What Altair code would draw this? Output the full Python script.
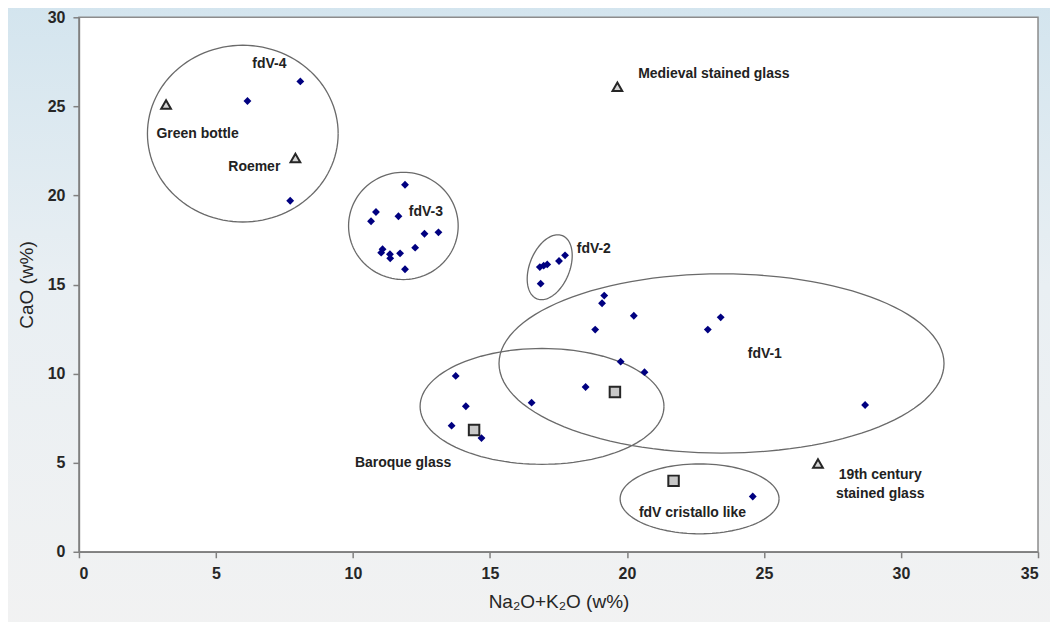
import altair as alt
import numpy as np
import pandas as pd

# ---------------- data ----------------
samp_x = [6.15, 8.08, 7.71,
          11.9, 10.84, 10.66, 11.66, 12.61, 13.12, 12.27, 11.08, 11.03, 11.35, 11.36, 11.72, 11.9,
          16.82, 16.96, 17.09, 17.52, 17.74, 16.85,
          19.17, 19.09, 20.25, 18.84, 23.42, 22.95, 19.77, 20.64, 18.49, 28.69, 16.52,
          13.75, 14.12, 13.6, 14.69, 24.59]
samp_y = [25.3, 26.4, 19.7,
          20.6, 19.07, 18.55, 18.83, 17.85, 17.93, 17.07, 16.98, 16.79, 16.7, 16.47, 16.75, 15.86,
          15.98, 16.06, 16.13, 16.32, 16.64, 15.05,
          14.38, 13.95, 13.25, 12.47, 13.16, 12.47, 10.67, 10.08, 9.25, 8.24, 8.37,
          9.87, 8.17, 7.08, 6.38, 3.1]

ref_tri_name = ["Green bottle", "Roemer", "Medieval stained glass", "19th century stained glass"]
ref_tri_x = [3.18, 7.9, 19.65, 26.97]
ref_tri_y = [25.1, 22.1, 26.1, 4.95]

ref_sq_name = ["Baroque glass A", "Baroque glass B", "cristallo"]
ref_sq_x = [14.42, 19.56, 21.7]
ref_sq_y = [6.84, 8.97, 3.98]

ell_name = ["fdV-4", "fdV-3", "fdV-2", "fdV-1", "Baroque", "cristallo"]
ell_cx = [5.98, 11.84, 17.18, 23.45, 16.9, 22.65]
ell_cy = [23.47, 18.29, 15.97, 10.57, 8.16, 2.97]
ell_rx = [3.48, 2.0, 0.73, 8.12, 4.45, 2.9]
ell_ry = [4.96, 3.01, 1.91, 5.03, 3.25, 1.96]
ell_tilt = [0, 0, -22, 0, 0, 0]

lab_text = ["fdV-4", "Green bottle", "Roemer", "Medieval stained glass", "fdV-3", "fdV-2",
            "fdV-1", "Baroque glass", "fdV cristallo like", "19th century", "stained glass"]
lab_x = [6.95, 4.33, 6.4, 23.17, 12.66, 18.79, 25.03, 11.83, 22.39, 29.24, 29.24]
lab_y = [27.4, 23.45, 21.58, 26.82, 19.06, 17.0, 11.12, 5.0, 2.18, 4.29, 3.26]

# ---------------- layout ----------------
W, H = 960, 535
XMAX, YMAX = 35, 30
kx, ky = W / XMAX, H / YMAX

rows = []
t = np.linspace(0, 2 * np.pi, 121)
for n, cx, cy, rx, ry, tl in zip(ell_name, ell_cx, ell_cy, ell_rx, ell_ry, ell_tilt):
    th = np.radians(tl)
    px = rx * kx * np.cos(t)
    py = ry * ky * np.sin(t)
    X = px * np.cos(th) - py * np.sin(th)
    Y = px * np.sin(th) + py * np.cos(th)
    for i, (a, b) in enumerate(zip(X, Y)):
        rows.append({"e": n, "i": i, "x": cx + a / kx, "y": cy + b / ky})
ell_df = pd.DataFrame(rows)

samp_df = pd.DataFrame({"x": samp_x, "y": samp_y})
tri_df = pd.DataFrame({"name": ref_tri_name, "x": ref_tri_x, "y": ref_tri_y})
sq_df = pd.DataFrame({"name": ref_sq_name, "x": ref_sq_x, "y": ref_sq_y})
lab_df = pd.DataFrame({"t": lab_text, "x": lab_x, "y": lab_y})
one = pd.DataFrame({"a": [0]})

axis_style = dict(
    grid=False, zindex=2,
    domainColor="#808080", domainWidth=1.5, tickColor="#808080", tickWidth=1.5, tickSize=6,
    labelFont="Liberation Sans", labelFontWeight="bold", labelFontSize=16, labelColor="#262626",
    labelPadding=8, titleFont="Liberation Sans", titleFontWeight="normal", titleFontSize=19,
    titleColor="#262626", titlePadding=11,
)
xs = alt.Scale(domain=[0, XMAX], nice=False, zero=False)
ys = alt.Scale(domain=[0, YMAX], nice=False, zero=False)
xax = alt.Axis(values=list(range(0, 36, 5)), title="Na₂O+K₂O (w%)", **axis_style)
yax = alt.Axis(values=list(range(0, 31, 5)), title="CaO (w%)", **axis_style)

bg = alt.Chart(one).mark_rect(
    fill=alt.LinearGradient(
        gradient="linear",
        stops=[alt.GradientStop(color="#d2e4ee", offset=0),
               alt.GradientStop(color="#e9eff3", offset=0.45),
               alt.GradientStop(color="#f2f2f2", offset=1)],
        x1=0, x2=0, y1=0, y2=1),
).encode(x=alt.value(-90), x2=alt.value(W + 40), y=alt.value(-30), y2=alt.value(H + 100))

plotbg = alt.Chart(one).mark_rect(fill="white", stroke="#8c8c8c", strokeWidth=1.5).encode(
    x=alt.value(0), x2=alt.value(W), y=alt.value(0), y2=alt.value(H))

ells = alt.Chart(ell_df).mark_line(color="#6a6a6a", strokeWidth=1.3).encode(
    x=alt.X("x:Q", scale=xs, axis=xax),
    y=alt.Y("y:Q", scale=ys, axis=yax),
    detail="e:N",
    order="i:Q",
)

pts = alt.Chart(samp_df).mark_point(shape="diamond", filled=True, color="#000080", size=62, opacity=1).encode(
    x=alt.X("x:Q", scale=xs, axis=xax), y=alt.Y("y:Q", scale=ys, axis=yax))

tris = alt.Chart(tri_df).mark_point(shape="triangle-up", filled=True, fill="#d4d4d4", stroke="#262626",
                                    strokeWidth=2, size=95, opacity=1).encode(
    x=alt.X("x:Q", scale=xs, axis=xax), y=alt.Y("y:Q", scale=ys, axis=yax))

sqs = alt.Chart(sq_df).mark_point(shape="square", filled=True, fill="#c8c8c8", stroke="#262626",
                                  strokeWidth=2, size=110, opacity=1).encode(
    x=alt.X("x:Q", scale=xs, axis=xax), y=alt.Y("y:Q", scale=ys, axis=yax))

labs = alt.Chart(lab_df).mark_text(font="Liberation Sans", fontWeight="bold", fontSize=14,
                                   color="#222222", align="center", baseline="middle").encode(
    x=alt.X("x:Q", scale=xs, axis=xax), y=alt.Y("y:Q", scale=ys, axis=yax), text="t:N")

chart = alt.layer(bg, plotbg, ells, pts, tris, sqs, labs).properties(
    width=W, height=H,
    background="#f2f2f2",
    autosize=alt.AutoSizeParams(type="none"),
    padding={"left": 71, "top": 9, "right": 12, "bottom": 70},
).configure_view(stroke=None)

chart.save("out.html", embed_options={"renderer": "svg", "actions": False})
